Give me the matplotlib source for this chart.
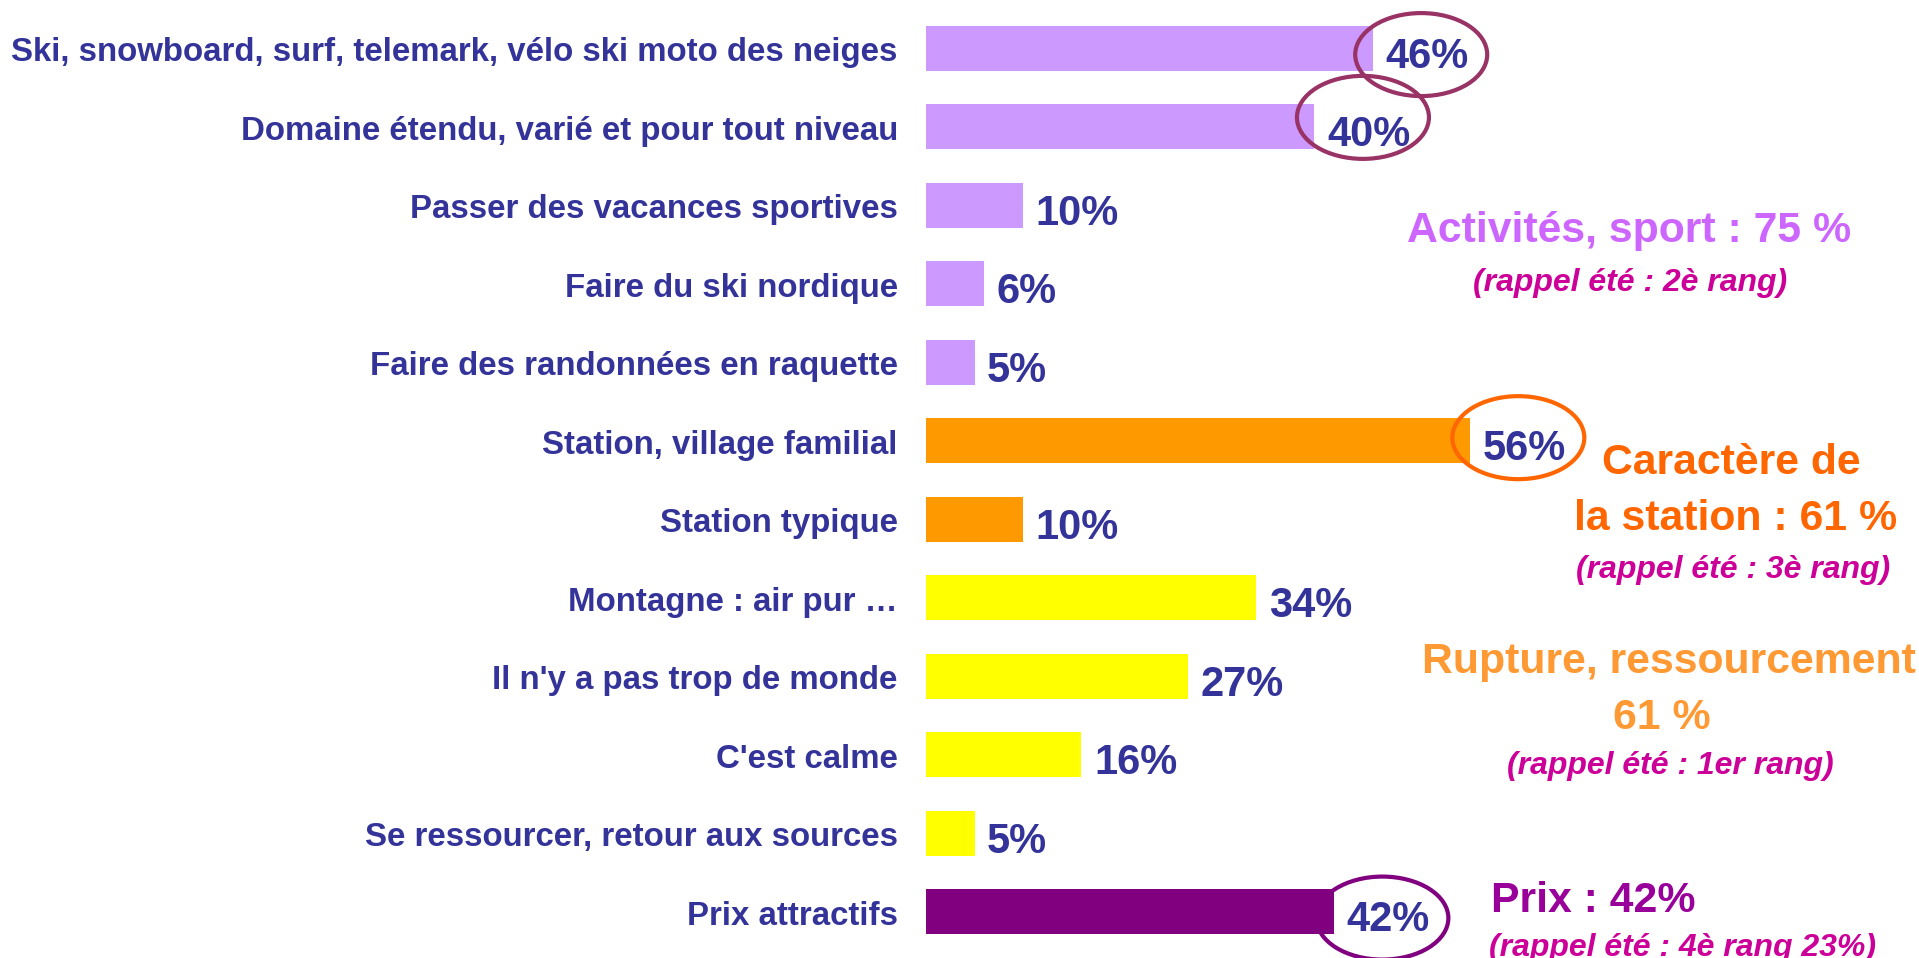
import matplotlib
matplotlib.use("Agg")
import matplotlib.pyplot as plt
from matplotlib.patches import Ellipse

plt.rcParams['font.family'] = ['Liberation Sans', 'DejaVu Sans']

# Chart data
categories = [
    "Ski, snowboard, surf, telemark, vélo ski moto des neiges",
    "Domaine étendu, varié et pour tout niveau",
    "Passer des vacances sportives",
    "Faire du ski nordique",
    "Faire des randonnées en raquette",
    "Station, village familial",
    "Station typique",
    "Montagne : air pur …",
    "Il n'y a pas trop de monde",
    "C'est calme",
    "Se ressourcer, retour aux sources",
    "Prix attractifs",
]
values = [46, 40, 10, 6, 5, 56, 10, 34, 27, 16, 5, 42]
groups = ["sport", "sport", "sport", "sport", "sport",
          "station", "station",
          "rupture", "rupture", "rupture", "rupture",
          "prix"]

group_colors = {"sport": "#CC99FF", "station": "#FF9900",
                "rupture": "#FFFF00", "prix": "#800080"}

# circled values: index -> (ring colour, vertical shift in rows)
circled = {0: ("#993366", 0.08), 1: ("#993366", -0.12),
           5: ("#FF6600", -0.04), 11: ("#800080", 0.08)}

NAVY = "#333399"
W, H = 1919, 958
PX_PER_PCT = 9.71
BAR_X0 = 926
ROW0 = 48.3
ROW_STEP = 78.5

fig = plt.figure(figsize=(W / 100, H / 100), dpi=100)
ax = fig.add_axes([0, 0, 1, 1])
ax.set_xlim(-BAR_X0 / PX_PER_PCT, (W - BAR_X0) / PX_PER_PCT)
ax.set_ylim((H - ROW0) / ROW_STEP, -ROW0 / ROW_STEP)
ax.axis('off')

ypos = list(range(len(categories)))
ax.barh(ypos, values, height=0.57, color=[group_colors[g] for g in groups])

for i, (cat, v) in enumerate(zip(categories, values)):
    ax.text(-2.9, i + 0.165, cat, ha='right', va='baseline', fontsize=23.8,
            fontweight='bold', color=NAVY)
    ax.text(v + 1.3, i + 0.25, f"{v}%", ha='left', va='baseline', fontsize=30,
            fontweight='bold', color=NAVY)

for i, (col, dy) in circled.items():
    ax.add_patch(Ellipse((values[i] + 5.0, i + dy), 132 / PX_PER_PCT,
                         83 / ROW_STEP, fill=False, edgecolor=col, lw=3))


def note(x, y, s, color, size, style='normal', ha='center'):
    fig.text(x / W, 1 - y / H, s, ha=ha, va='center', fontsize=size,
             fontweight='bold', fontstyle=style, color=color)


note(1629, 231, "Activités, sport : 75 %", "#CC66FF", 30.8)
note(1630, 283, "(rappel été : 2è rang)", "#CC0099", 23, 'italic')

note(1731, 463, "Caractère de", "#FF6600", 30.8)
note(1736, 519, "la station : 61 %", "#FF6600", 30.8)
note(1733, 570, "(rappel été : 3è rang)", "#CC0099", 23, 'italic')

note(1669, 662, "Rupture, ressourcement", "#FF9933", 30.8)
note(1662, 718, "61 %", "#FF9933", 30.8)
note(1670, 766, "(rappel été : 1er rang)", "#CC0099", 23, 'italic')

note(1491, 901, "Prix : 42%", "#990099", 30.8, ha='left')
note(1489, 948, "(rappel été : 4è rang 23%)", "#CC0099", 23, 'italic', ha='left')

fig.savefig("out.png", dpi=100)
